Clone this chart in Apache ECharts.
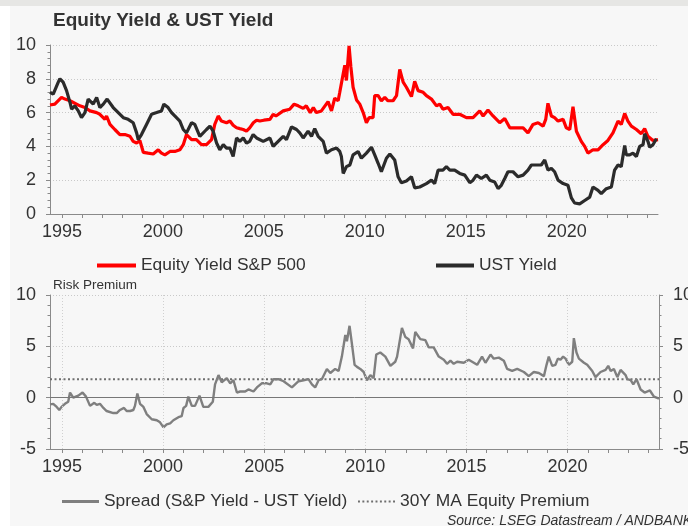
<!DOCTYPE html>
<html><head><meta charset="utf-8">
<script src="https://cdn.jsdelivr.net/npm/echarts@6/dist/echarts.min.js"></script>
<style>html,body{margin:0;padding:0;background:#fff}#c{width:688px;height:526px}</style>
</head><body><div id="c"></div>
<script>
// ---- data (decimal years) ----
const eqYears = [1994.41,1994.65,1994.98,1995.15,1995.40,1995.89,1996.14,1996.39,1996.72,1996.88,1997.13,1997.21,1997.38,1997.62,1997.87,1998.12,1998.37,1998.53,1998.70,1998.86,1999.03,1999.27,1999.52,1999.77,1999.93,2000.10,2000.35,2000.59,2000.84,2001.01,2001.17,2001.42,2001.66,2001.91,2002.16,2002.41,2002.57,2002.74,2002.90,2003.15,2003.32,2003.48,2003.65,2003.81,2003.98,2004.14,2004.30,2004.48,2004.64,2004.80,2005.00,2005.30,2005.46,2005.60,2005.96,2006.28,2006.50,2006.70,2006.95,2007.10,2007.30,2007.45,2007.60,2007.85,2008.18,2008.35,2008.51,2008.68,2008.76,2008.93,2009.01,2009.09,2009.22,2009.31,2009.42,2009.59,2009.75,2009.92,2010.08,2010.21,2010.41,2010.49,2010.66,2010.82,2010.99,2011.15,2011.40,2011.57,2011.73,2011.90,2012.06,2012.31,2012.47,2012.64,2012.89,2013.05,2013.30,2013.55,2013.71,2013.87,2014.12,2014.37,2014.70,2015.03,2015.36,2015.69,2015.86,2016.10,2016.35,2016.68,2016.93,2017.18,2017.51,2017.84,2018.08,2018.33,2018.58,2018.83,2018.96,2019.07,2019.24,2019.40,2019.57,2019.82,2019.98,2020.15,2020.31,2020.48,2020.72,2020.89,2021.05,2021.30,2021.55,2021.80,2022.04,2022.29,2022.54,2022.70,2022.87,2023.03,2023.20,2023.45,2023.69,2023.86,2024.02,2024.27,2024.52];
const eqValues = [6.45,6.5,6.9,6.8,6.7,6.4,6.3,6.1,6.0,5.9,5.6,5.8,5.3,5.0,4.7,4.7,4.6,4.3,4.2,4.35,3.65,3.6,3.55,3.8,3.6,3.5,3.7,3.7,3.8,4.1,4.7,4.4,4.4,4.1,4.1,4.4,5.3,5.8,5.5,5.4,5.5,5.25,5.1,5.05,5.0,4.9,5.1,5.4,5.55,5.5,5.55,5.6,5.9,5.8,6.1,6.2,6.5,6.4,6.25,6.4,6.0,6.3,6.0,6.1,6.65,6.1,6.85,6.7,7.2,8.3,8.8,7.9,9.95,8.7,7.5,6.75,6.5,6.0,5.4,5.7,5.7,7.0,7.0,6.7,6.9,6.7,6.7,7.0,8.55,7.8,7.5,6.95,7.85,7.3,7.2,7.0,6.8,6.4,6.5,6.2,6.3,5.9,5.9,5.7,5.7,6.1,5.8,6.15,5.8,5.4,5.65,5.1,5.1,5.1,4.8,5.3,5.4,5.2,5.6,6.55,5.8,5.7,5.5,5.6,5.1,5.0,6.35,4.9,4.3,4.0,3.6,3.8,3.8,4.1,4.35,4.8,5.5,5.3,5.95,5.5,5.2,5.0,4.75,5.05,4.6,4.35,4.4];
const ustYears = [1994.41,1994.57,1994.82,1994.90,1995.06,1995.23,1995.40,1995.48,1995.64,1995.81,1995.97,1996.14,1996.30,1996.55,1996.72,1996.88,1997.05,1997.24,1997.54,1997.79,1998.04,1998.28,1998.53,1998.70,1998.78,1998.94,1999.19,1999.44,1999.69,1999.93,2000.05,2000.26,2000.43,2000.59,2000.84,2001.01,2001.17,2001.42,2001.58,2001.83,2002.16,2002.33,2002.49,2002.66,2002.82,2002.99,2003.15,2003.32,2003.48,2003.65,2003.81,2003.98,2004.14,2004.30,2004.47,2004.64,2004.97,2005.30,2005.46,2005.71,2005.96,2006.12,2006.37,2006.62,2006.78,2006.95,2007.19,2007.36,2007.52,2007.69,2007.94,2008.10,2008.35,2008.60,2008.76,2008.84,2008.93,2009.09,2009.26,2009.42,2009.67,2009.83,2010.08,2010.33,2010.49,2010.66,2010.82,2011.07,2011.24,2011.48,2011.65,2011.81,2012.06,2012.31,2012.47,2012.72,2013.05,2013.30,2013.46,2013.63,2013.71,2013.87,2014.04,2014.21,2014.45,2014.70,2014.95,2015.20,2015.36,2015.53,2015.77,2016.02,2016.19,2016.43,2016.60,2016.76,2016.93,2017.09,2017.34,2017.59,2017.84,2018.08,2018.25,2018.50,2018.74,2018.91,2019.07,2019.24,2019.40,2019.57,2019.82,2020.06,2020.23,2020.39,2020.64,2020.89,2021.14,2021.30,2021.55,2021.71,2021.96,2022.21,2022.37,2022.54,2022.70,2022.87,2022.95,2023.12,2023.28,2023.45,2023.61,2023.78,2023.86,2024.02,2024.11,2024.27,2024.44];
const ustValues = [7.2,7.1,7.8,8.0,7.8,7.3,6.6,6.2,6.4,6.1,5.7,6.0,6.8,6.5,6.9,6.3,6.5,6.8,6.3,6.0,5.7,5.6,5.4,4.8,4.4,4.7,5.3,5.9,6.0,6.1,6.5,6.3,6.0,5.8,5.5,5.0,4.8,5.4,5.3,4.6,5.0,5.2,4.9,4.2,3.8,4.1,3.9,3.9,3.4,4.5,4.3,4.5,4.2,4.3,4.7,4.5,4.3,4.5,4.0,4.3,4.6,4.4,5.15,5.0,4.8,4.5,4.9,4.6,5.05,4.6,4.3,3.6,3.8,3.9,3.7,3.4,2.4,2.8,2.9,3.5,3.7,3.3,3.6,3.95,3.5,3.0,2.5,3.3,3.55,3.2,2.2,1.85,1.95,2.2,1.55,1.6,1.8,2.0,1.8,2.6,2.7,2.6,2.8,2.6,2.6,2.4,2.3,1.85,2.0,2.3,2.1,2.3,2.0,1.9,1.5,1.7,2.1,2.5,2.5,2.2,2.3,2.6,2.9,2.9,2.9,3.2,2.6,2.7,2.5,2.0,1.8,1.7,0.95,0.65,0.6,0.8,1.0,1.6,1.4,1.2,1.5,1.6,2.6,2.9,2.8,4.05,3.5,3.5,3.6,3.4,4.0,4.1,4.75,4.3,3.95,4.1,4.45];
const spreadYears = [1994.41,1994.57,1994.74,1994.87,1994.98,1995.15,1995.31,1995.40,1995.56,1995.81,1996.02,1996.19,1996.39,1996.60,1996.72,1996.88,1997.05,1997.21,1997.54,1997.71,1997.87,1998.07,1998.20,1998.37,1998.53,1998.61,1998.73,1998.86,1999.03,1999.19,1999.44,1999.69,1999.85,2000.02,2000.18,2000.35,2000.51,2000.76,2000.92,2001.01,2001.14,2001.25,2001.42,2001.58,2001.80,2001.99,2002.24,2002.46,2002.57,2002.74,2002.90,2003.15,2003.32,2003.48,2003.65,2003.81,2004.06,2004.22,2004.47,2004.64,2004.88,2005.13,2005.30,2005.46,2005.71,2005.96,2006.37,2006.70,2006.95,2007.19,2007.36,2007.52,2007.69,2007.85,2008.10,2008.27,2008.51,2008.68,2008.84,2009.01,2009.09,2009.22,2009.34,2009.47,2009.59,2009.75,2009.92,2010.08,2010.25,2010.41,2010.54,2010.74,2010.99,2011.24,2011.48,2011.57,2011.81,2011.98,2012.14,2012.36,2012.47,2012.72,2012.97,2013.13,2013.38,2013.63,2013.88,2014.04,2014.21,2014.37,2014.54,2014.87,2015.11,2015.28,2015.53,2015.77,2015.94,2016.19,2016.35,2016.60,2016.85,2017.01,2017.26,2017.51,2017.84,2018.08,2018.33,2018.58,2018.83,2018.96,2019.07,2019.24,2019.40,2019.52,2019.65,2019.78,2019.90,2020.06,2020.23,2020.31,2020.44,2020.56,2020.81,2020.97,2021.22,2021.38,2021.63,2021.88,2022.01,2022.13,2022.29,2022.46,2022.62,2022.87,2022.95,2023.12,2023.25,2023.41,2023.61,2023.81,2024.07,2024.27,2024.52];
const spreadValues = [-0.65,-0.6,-0.9,-1.2,-0.9,-0.6,-0.4,0.5,0.0,0.2,0.5,0.1,-0.8,-0.5,-0.7,-0.6,-1.0,-1.3,-1.5,-1.5,-1.2,-1.0,-1.3,-1.3,-1.2,-0.8,0.4,-0.6,-0.9,-1.6,-2.1,-2.2,-2.4,-2.9,-2.6,-2.5,-2.2,-1.9,-1.8,-1.0,-0.8,0.1,-0.8,-0.8,0.2,-0.9,-0.9,-0.4,1.3,2.2,1.5,1.9,1.4,1.7,0.5,0.6,0.6,0.8,0.6,1.0,1.4,1.4,1.3,1.8,1.8,1.6,1.0,1.6,1.7,1.8,1.3,1.0,1.7,1.8,2.8,2.4,2.8,2.6,4.0,6.1,5.5,7.0,5.2,3.2,3.0,2.8,2.5,1.7,2.2,1.9,4.2,4.4,4.0,3.1,3.5,4.0,6.8,5.9,5.7,4.8,6.4,5.7,5.6,4.9,4.9,4.0,3.7,3.3,3.6,3.3,3.5,3.4,3.7,3.5,3.2,4.0,3.4,4.2,3.8,3.9,3.6,2.8,2.6,2.8,2.5,2.1,2.5,2.4,2.1,3.2,4.0,3.1,3.2,3.8,3.7,4.0,3.8,3.2,3.5,5.8,4.4,3.8,3.4,3.2,2.6,2.0,2.5,2.7,3.1,2.6,2.8,2.0,2.7,2.2,1.8,1.7,1.3,1.8,0.8,0.5,0.7,0.1,-0.1];
const maValue = 1.8;
const xStart = 1994.41, xEnd = 2024.52;
const yearLabels = [1995,2000,2005,2010,2015,2020];
const yearTicks = [1995,1996,1997,1998,1999,2000,2001,2002,2003,2004,2005,2006,2007,2008,2009,2010,2011,2012,2013,2014,2015,2016,2017,2018,2019,2020,2021,2022,2023,2024];
const topRange = [0, 10, 2];
const bottomRange = [-5, 10, 5];
const names = ['Equity Yield S&P 500','UST Yield','Spread (S&P Yield - UST Yield)','30Y MA Equity Premium'];

// ---- chart ----
const FONT = "'Liberation Sans', Arial, Helvetica, sans-serif";
const axisColor = '#8a8a8a';
const txt = '#333333';
const zip = (a,b) => a.map((x,i)=>[x,b[i]]);

function xAxis(grid){
  return {
    type:'value', gridIndex:grid, min:xStart, max:xEnd,
    axisLine:{show:true, onZero:false, lineStyle:{color:axisColor,width:1}},
    axisTick:{show:true, customValues:yearTicks, length:4, lineStyle:{color:axisColor}},
    axisLabel:{customValues:yearLabels, formatter:v=>String(v), color:txt, fontSize:18, fontFamily:FONT, margin:9},
    splitLine:{show:false}, minorTick:{show:false}
  };
}
function yAxis(grid, r, pos, split){
  return {
    type:'value', gridIndex:grid, min:r[0], max:r[1], interval:r[2], position:pos,
    axisLine:{show:true, lineStyle:{color:axisColor,width:1}},
    axisTick:{show:true, length:4, lineStyle:{color:axisColor}},
    minorTick:{show:true, splitNumber:5, length:2.5, lineStyle:{color:axisColor}},
    axisLabel:{color:txt, fontSize:18, fontFamily:FONT, margin:14},
    splitLine:{show:split, lineStyle:{color:'#c9c9c9', type:[1,2], width:1}}
  };
}

const dottedIcon = 'path://M0,0h2v2h-2z M4.5,0h2v2h-2z M9,0h2v2h-2z M13.5,0h2v2h-2z M18,0h2v2h-2z M22.5,0h2v2h-2z M27,0h2v2h-2z M31.5,0h2v2h-2z M36,0h2v2h-2z';
const chart = echarts.init(document.getElementById('c'), null, {renderer:'canvas'});
function legend(name, left, top, icon, w, h, color){
  return {data:[{name:name, icon:icon, itemStyle:{color:color}}], left:left, top:top, orient:'horizontal',
    itemWidth:w, itemHeight:h, selectedMode:false,
    textStyle:{color:txt, fontSize:17.4, fontFamily:FONT, padding:0}};
}

chart.setOption({
  backgroundColor:'#ffffff',
  animation:false,
  graphic:[
    {type:'rect', left:0, top:0, shape:{width:688,height:6}, style:{fill:'#e6e6e4'}, z:-10},
    {type:'rect', left:10, top:6, shape:{width:678,height:520}, style:{fill:'#f7f7f7'}, z:-10},
    {type:'text', left:53, top:278, style:{text:'Risk Premium', fill:txt, font:'13.5px '+FONT}},
    {type:'text', left:447, top:514, style:{text:'Source: LSEG Datastream / ANDBANK', fill:txt, font:'italic 14px '+FONT}}
  ],
  title:{text:'Equity Yield & UST Yield', left:53, top:11, padding:0,
    textStyle:{color:txt, fontSize:19, fontWeight:'bold', fontFamily:FONT}},
  grid:[
    {left:50, top:45, width:608, height:169, containLabel:false, outerBoundsMode:'none'},
    {left:50, top:295, width:609, height:154, containLabel:false, outerBoundsMode:'none'}
  ],
  xAxis:[xAxis(0), xAxis(1)],
  yAxis:[yAxis(0, topRange, 'left', true), yAxis(1, bottomRange, 'left', true), yAxis(1, bottomRange, 'right', false)],
  legend:[
    legend(names[0], 92, 252, 'rect', 39, 4, '#ff0000'),
    legend(names[1], 431, 252, 'rect', 38, 4, '#2b2b2b'),
    legend(names[2], 57, 488, 'rect', 37, 3, '#7f7f7f'),
    legend(names[3], 353, 488, dottedIcon, 37, 2, '#6e6e6e')
  ],
  series:[
    {name:names[0], type:'line', xAxisIndex:0, yAxisIndex:0, data:zip(eqYears,eqValues), symbol:'none', smooth:false,
      lineStyle:{color:'#ff0000', width:3.2}, itemStyle:{color:'#ff0000'}, z:3},
    {name:names[1], type:'line', xAxisIndex:0, yAxisIndex:0, data:zip(ustYears,ustValues), symbol:'none',
      lineStyle:{color:'#2b2b2b', width:3.2}, itemStyle:{color:'#2b2b2b'}, z:4},
    {name:names[2], type:'line', xAxisIndex:1, yAxisIndex:1, data:zip(spreadYears,spreadValues), symbol:'none',
      lineStyle:{color:'#7f7f7f', width:2.4}, itemStyle:{color:'#7f7f7f'}, z:4,
      markLine:{silent:true, symbol:'none', label:{show:false}, animation:false,
        data:[...yearLabels.map(y=>({xAxis:y, lineStyle:{color:'#d0d0d0', type:[1,2], width:1}})),
              {yAxis:0, lineStyle:{color:'#777777', type:'solid', width:1}}]}},
    {name:names[3], type:'line', xAxisIndex:1, yAxisIndex:1, data:[[xStart,maValue],[xEnd,maValue]], symbol:'none',
      lineStyle:{color:'#6e6e6e', width:2, type:[2,2.5]}, itemStyle:{color:'#6e6e6e'}, z:3}
  ]
});
</script></body></html>
